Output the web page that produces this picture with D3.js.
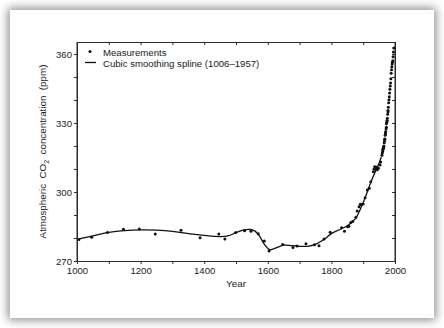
<!DOCTYPE html>
<html>
<head>
<meta charset="utf-8">
<script src="https://cdn.jsdelivr.net/npm/d3@7"></script>
<style>
  html, body { margin: 0; padding: 0; background: #fff; }
  body { width: 444px; height: 328px; position: relative; overflow: hidden; }
  #card {
    position: absolute; left: 10px; top: 10px; width: 424px; height: 308px;
    background: #fff; box-shadow: 0 0 9px 2px rgba(0,0,0,0.45);
  }
  svg { position: absolute; left: 0; top: 0; }
  text { font-family: "Liberation Sans", Arial, sans-serif; fill: #1a1a1a; }
</style>
</head>
<body>
<div id="card"></div>
<svg id="chart" width="444" height="328"></svg>
<script>
// Ice-core and atmospheric CO2 measurements (year, ppm)
const measYears = [
  1006, 1046, 1096, 1146, 1196, 1246, 1327, 1387, 1446, 1465, 1499, 1527, 1547,
  1570, 1589, 1604, 1647, 1679, 1692, 1720, 1747, 1761, 1777, 1796,
  1832, 1841, 1851, 1855, 1861, 1867, 1877, 1881, 1887, 1891, 1893, 1900, 1906,
  1913, 1919, 1924, 1932, 1934, 1936, 1938, 1940, 1942, 1944, 1948, 1953, 1955,
  1962, 1965, 1968, 1970, 1973, 1975, 1978,
  1959, 1960, 1961, 1962, 1963, 1964, 1965, 1966, 1967, 1968, 1969, 1970,
  1971, 1972, 1973, 1974, 1975, 1976, 1977, 1978, 1979, 1980, 1981, 1982,
  1983, 1984, 1985, 1986, 1987, 1988, 1989, 1990, 1991, 1992, 1993, 1994,
  1995, 1996
];
const measPpm = [
  279.4, 280.3, 282.4, 283.8, 283.9, 281.7, 283.4, 280.1, 281.7, 279.6, 282.4, 283.2, 282.9,
  281.8, 278.7, 274.3, 277.2, 275.9, 276.5, 277.5, 277.1, 276.6, 279.6, 282.5,
  284.4, 282.9, 284.9, 285.1, 286.7, 287.2, 289.0, 291.7, 293.6, 294.7, 294.6, 294.8, 297.5,
  300.9, 301.6, 304.5, 308.8, 309.9, 311.0, 310.4, 310.9, 309.9, 309.7, 310.3, 311.7, 313.0,
  318.5, 319.6, 322.9, 325.2, 328.1, 330.9, 334.9,
  315.97, 316.91, 317.64, 318.45, 318.99, 319.62, 320.04, 321.38, 322.16, 323.04, 324.62, 325.68,
  326.32, 327.45, 329.68, 330.18, 331.11, 332.04, 333.83, 335.40, 336.84, 338.75, 340.11, 341.45,
  343.05, 344.65, 346.12, 347.42, 349.19, 351.57, 353.12, 354.39, 355.61, 356.45, 357.10, 358.83,
  360.82, 362.61
];

// Cubic smoothing spline fitted to the 1006-1957 record
const splineYears = [
  1006, 1050, 1100, 1150, 1200, 1250, 1300, 1350, 1400, 1450, 1475, 1500, 1525,
  1545, 1560, 1575, 1590, 1607, 1620, 1650, 1675, 1700, 1725, 1750, 1775, 1800,
  1825, 1850, 1875, 1900, 1925, 1950, 1957
];
const splinePpm = [
  279.6, 280.9, 282.4, 283.2, 283.5, 283.4, 282.9, 281.9, 281.1, 280.6, 280.9, 282.3, 283.5,
  283.7, 283.0, 280.6, 277.1, 274.9, 275.4, 276.9, 276.7, 276.4, 276.4, 277.2, 279.2, 281.9,
  283.6, 285.3, 288.3, 295.4, 304.6, 312.6, 315.2
];

const xTickLabels = [1000, 1200, 1400, 1600, 1800, 2000];
const yTickLabels = [270, 300, 330, 360];

const svg = d3.select("#chart");
const plotLeft = 77, plotRight = 395, plotTop = 42, plotBottom = 261;

const x = d3.scaleLinear().domain([1000, 2000]).range([plotLeft, plotRight]);
const y = d3.scaleLinear().domain([270, 365.2]).range([plotBottom, plotTop]);

const axisColor = "#2a2a2a";
const xMinor = d3.range(1000, 2001, 100);
const yMinor = d3.range(270, 361, 10);

function styleAxis(g) {
  g.select(".domain").attr("stroke", axisColor).attr("stroke-width", 1);
  g.selectAll(".tick line").attr("stroke", axisColor).attr("stroke-width", 1);
  g.selectAll(".tick text")
    .attr("font-size", "9.6px")
    .attr("fill", "#1a1a1a")
    .attr("font-family", "Liberation Sans, Arial, sans-serif");
}

// Bottom axis: outward ticks every 100 years, labels every 200
svg.append("g")
  .attr("transform", `translate(0,${plotBottom})`)
  .call(d3.axisBottom(x).tickValues(xMinor).tickSizeInner(3).tickSizeOuter(0)
    .tickPadding(3)
    .tickFormat(d => xTickLabels.includes(d) ? d : ""))
  .call(styleAxis);

// Left axis: outward ticks every 10 ppm, labels every 30
svg.append("g")
  .attr("transform", `translate(${plotLeft},0)`)
  .call(d3.axisLeft(y).tickValues(yMinor).tickSizeInner(3).tickSizeOuter(0)
    .tickPadding(2)
    .tickFormat(d => yTickLabels.includes(d) ? d : ""))
  .call(styleAxis);

// Top and right frame with inward ticks
svg.append("g")
  .attr("transform", `translate(0,${plotTop})`)
  .call(d3.axisBottom(x).tickValues(xMinor).tickSizeInner(3).tickSizeOuter(0).tickFormat(""))
  .call(styleAxis);
svg.append("g")
  .attr("transform", `translate(${plotRight},0)`)
  .call(d3.axisLeft(y).tickValues(yMinor).tickSizeInner(3).tickSizeOuter(0).tickFormat(""))
  .call(styleAxis);
// close the frame corners
svg.append("line").attr("x1", plotLeft).attr("x2", plotLeft).attr("y1", plotTop).attr("y2", plotBottom)
  .attr("stroke", axisColor);
svg.append("line").attr("x1", plotRight).attr("x2", plotRight).attr("y1", plotTop).attr("y2", plotBottom)
  .attr("stroke", axisColor);

// Axis titles
svg.append("text")
  .attr("x", (plotLeft + plotRight) / 2).attr("y", 287)
  .attr("text-anchor", "middle").attr("font-size", "9.8px")
  .text("Year");

const yTitle = svg.append("text")
  .attr("transform", `translate(46,${(plotTop + plotBottom) / 2}) rotate(-90)`)
  .attr("text-anchor", "middle").attr("font-size", "9.8px")
  .attr("xml:space", "preserve");
yTitle.append("tspan").text("Atmospheric  CO");
yTitle.append("tspan").attr("font-size", "7px").attr("dy", "2.5").text("2");
yTitle.append("tspan").attr("dy", "-2.5").text("  concentration  (ppm)");

// Spline curve
const splineData = splineYears.map((yr, i) => [yr, splinePpm[i]]);
svg.append("path")
  .datum(splineData)
  .attr("fill", "none")
  .attr("stroke", "#111")
  .attr("stroke-width", 1.3)
  .attr("d", d3.line().x(d => x(d[0])).y(d => y(d[1])).curve(d3.curveCatmullRom.alpha(0.5)));

// Measurement dots
const measData = measYears.map((yr, i) => [yr, measPpm[i]]);
svg.append("g")
  .selectAll("circle")
  .data(measData)
  .join("circle")
  .attr("cx", d => x(d[0]))
  .attr("cy", d => y(d[1]))
  .attr("r", 1.5)
  .attr("fill", "#111");

// Legend
const legend = svg.append("g");
legend.append("circle").attr("cx", 90).attr("cy", 51.5).attr("r", 1.5).attr("fill", "#111");
legend.append("text").attr("x", 103).attr("y", 55.5).attr("font-size", "9.6px").text("Measurements");
legend.append("line").attr("x1", 85).attr("x2", 96).attr("y1", 62.5).attr("y2", 62.5)
  .attr("stroke", "#111").attr("stroke-width", 1.3);
legend.append("text").attr("x", 103).attr("y", 66.5).attr("font-size", "9.6px")
  .text("Cubic smoothing spline (1006\u20131957)");
</script>
</body>
</html>
